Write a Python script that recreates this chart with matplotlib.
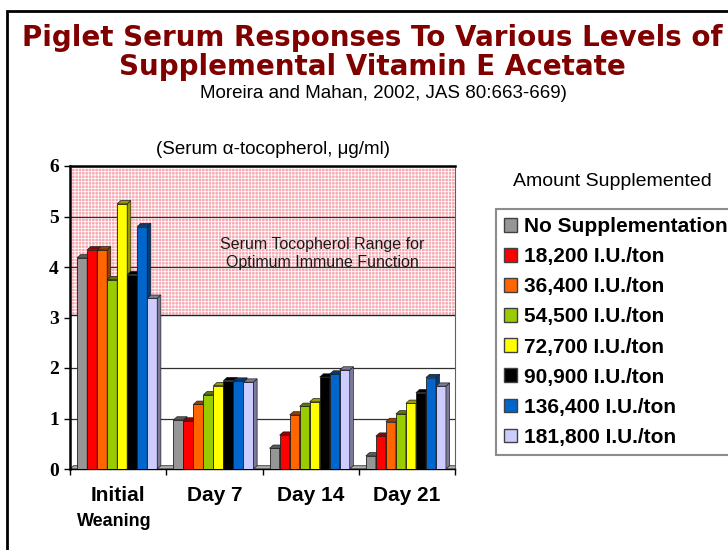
import numpy as np
import matplotlib
matplotlib.use("Agg")
import matplotlib.pyplot as plt
import matplotlib.colors as mcolors
from matplotlib.patches import Polygon, Rectangle, Patch

plt.rcParams['font.family'] = ['Liberation Sans', 'DejaVu Sans']
plt.rcParams['hatch.linewidth'] = 0.6

# data (serum alpha-tocopherol, ug/ml)
groups = ['Initial', 'Day 7', 'Day 14', 'Day 21']
levels = ['No Supplementation', '18,200 I.U./ton', '36,400 I.U./ton', '54,500 I.U./ton',
          '72,700 I.U./ton', '90,900 I.U./ton', '136,400 I.U./ton', '181,800 I.U./ton']
no_supp = [4.18, 0.97, 0.41, 0.26]
iu_18200 = [4.34, 0.95, 0.67, 0.65]
iu_36400 = [4.34, 1.28, 1.07, 0.94]
iu_54500 = [3.75, 1.47, 1.24, 1.09]
iu_72700 = [5.25, 1.65, 1.33, 1.30]
iu_90900 = [3.85, 1.75, 1.82, 1.51]
iu_136400 = [4.80, 1.74, 1.88, 1.81]
iu_181800 = [3.38, 1.72, 1.96, 1.64]
series = [no_supp, iu_18200, iu_36400, iu_54500, iu_72700, iu_90900, iu_136400, iu_181800]
colors = ['#969696', '#ff0000', '#ff6600', '#99cc00', '#ffff00', '#000000', '#0066cc', '#ccccff']
optimum_low, optimum_high = 3.05, 6.0

fig = plt.figure(figsize=(7.28, 5.5), dpi=100)
ax = fig.add_axes([70/728, 1-469/550, 385/728, 303/550])

# slide border
fig.patches.append(Rectangle((7/728, -0.05), 1.0, 1.05 - 11/550, transform=fig.transFigure,
                             fill=False, lw=2, ec='black'))

# optimum range band on the back wall
ax.axhspan(optimum_low, optimum_high, facecolor='#f7a8b0', edgecolor='white', hatch='+++++',
           lw=0, zorder=0.5)
ax.axhline(optimum_low, color='#202020', lw=1, zorder=0.9)
for yg in [1, 2, 4, 5]:
    ax.axhline(yg, color='#303030', lw=0.9, zorder=0.8)

x = np.arange(len(groups)) + 0.5
w = 0.104
dx, dy = 0.038, 0.065

# floor of the 3D chart
ax.add_patch(Polygon([(0, 0), (dx, dy), (4 + dx, dy), (4, 0)], closed=True,
                     fc='#b0b0b0', ec='#303030', lw=0.6, zorder=1))

for i, (vals, c) in enumerate(zip(series, colors)):
    z = 3 + 2 * i
    bars = ax.bar(x + (i - 3.5) * w - 0.01, vals, width=w, color=c, edgecolor='#202020',
                  linewidth=0.6, zorder=z)
    dark = np.array(mcolors.to_rgb(c)) * 0.6
    for b in bars:
        x0, x1, h = b.get_x(), b.get_x() + b.get_width(), b.get_height()
        side = Polygon([(x1, 0), (x1 + dx, dy), (x1 + dx, h + dy), (x1, h)], closed=True,
                       fc=dark, ec='#202020', lw=0.5, zorder=z + 1)
        top = Polygon([(x0, h), (x0 + dx, h + dy), (x1 + dx, h + dy), (x1, h)], closed=True,
                      fc=dark, ec='#202020', lw=0.5, zorder=z + 1)
        ax.add_patch(side)
        ax.add_patch(top)

ax.set_xlim(0, 4)
ax.set_ylim(0, 6)
ax.set_yticks(range(7))
ax.set_yticklabels([str(v) for v in range(7)], fontfamily='Liberation Serif',
                   fontweight='bold', fontsize=14)
ax.tick_params(axis='y', direction='out', length=4, width=1, pad=4)
ax.set_xticks(range(5))
ax.set_xticklabels([''] * 5)
ax.tick_params(axis='x', which='major', direction='out', length=4, width=1)
ax.set_xticks(x, minor=True)
ax.set_xticklabels(groups, minor=True, fontweight='bold', fontsize=15)
ax.tick_params(axis='x', which='minor', length=0, pad=12)
ax.text(x[0] - 0.04, -0.172, 'Weaning', transform=ax.get_xaxis_transform(),
        ha='center', va='center', fontweight='bold', fontsize=13)

for s in ['top', 'left']:
    ax.spines[s].set_linewidth(1.8)
ax.spines['right'].set_color('#606060')
ax.spines['bottom'].set_linewidth(1)

ax.text(2.62, 4.27, 'Serum Tocopherol Range for\nOptimum Immune Function', ha='center',
        va='center', fontsize=11.5, color='#1a1a1a', linespacing=1.25, zorder=30)

# titles
fig.text(372/728, 1-38/550, 'Piglet Serum Responses To Various Levels of',
         ha='center', va='center', fontfamily='DejaVu Sans', fontweight='bold',
         fontsize=20, color='#800000')
fig.text(372/728, 1-67/550, 'Supplemental Vitamin E Acetate',
         ha='center', va='center', fontfamily='DejaVu Sans', fontweight='bold',
         fontsize=20, color='#800000')
fig.text(383/728, 1-93/550, 'Moreira and Mahan, 2002, JAS 80:663-669)',
         ha='center', va='center', fontsize=13.5)
fig.text(273/728, 1-150/550, '(Serum α-tocopherol, μg/ml)',
         ha='center', va='center', fontsize=13.5)
fig.text(612/728, 1-181/550, 'Amount Supplemented', ha='center', va='center', fontsize=14)

handles = [Patch(facecolor=c, edgecolor='#404040', lw=1) for c in colors]
leg = fig.legend(handles, levels, loc='upper left', bbox_to_anchor=(496/728, 1-209/550),
                 borderaxespad=0, prop={'weight': 'bold', 'size': 15},
                 handlelength=0.62, handleheight=0.62, handletextpad=0.3, borderpad=0.4,
                 labelspacing=0.53, frameon=True, fancybox=False)
leg.get_frame().set_edgecolor('#707070')
leg.get_frame().set_linewidth(1.5)

fig.savefig('out.png', dpi=100)
